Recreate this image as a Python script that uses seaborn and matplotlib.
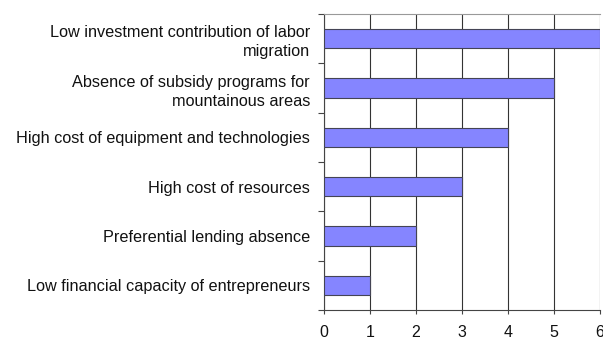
import matplotlib
matplotlib.use("Agg")
import matplotlib.pyplot as plt
import seaborn as sns
import pandas as pd
import numpy as np

categories = [
    "Low investment contribution of labor\nmigration",
    "Absence of subsidy programs for\nmountainous areas",
    "High cost of equipment and technologies",
    "High cost of resources",
    "Preferential lending absence",
    "Low financial capacity of entrepreneurs",
]
values = [6, 5, 4, 3, 2, 1]
xticks = [0, 1, 2, 3, 4, 5, 6]

sns.set_theme(style="white")
plt.rcParams['font.family'] = ['Liberation Sans', 'DejaVu Sans']

df = pd.DataFrame({"cat": categories, "val": values})

fig = plt.figure(figsize=(6.03, 3.41), dpi=100)
ax = fig.add_axes([324/603, 1 - 310/341, (600-324)/603, (310-14)/341])

sns.barplot(data=df, x="val", y="cat", orient="h", order=categories,
            color="#8585ff", saturation=1, width=0.39,
            edgecolor="#444455", linewidth=0.8, ax=ax, zorder=3)

ax.set_xlim(0, 6)
ax.set_ylim(len(categories) - 0.5, -0.5)
ax.set_xticks(xticks)
ax.set_xticklabels([str(t) for t in xticks], fontsize=11.5, color="#111111")
ax.set_xlabel("")
ax.set_ylabel("")
ax.set_yticks(range(len(categories)))
ax.set_yticklabels(categories, fontsize=11.7, color="#111111", ha="right",
                   multialignment="right", linespacing=1.35)
ax.set_yticks(np.arange(-0.5, len(categories), 1.0), minor=True)
ax.tick_params(axis="y", which="major", length=0, pad=10)
ax.tick_params(axis="y", which="minor", length=4, width=0.8, color="#444444", left=True)
ax.tick_params(axis="x", which="major", length=3, width=0.8, color="#444444", bottom=True, pad=8)
ax.xaxis.grid(True, color="#333333", linewidth=0.8, zorder=0)
ax.set_axisbelow(True)
ax.spines["right"].set_visible(False)
ax.spines["top"].set_color("#999999")
ax.spines["top"].set_linewidth(0.8)
for s in ["left", "bottom"]:
    ax.spines[s].set_color("#444444")
    ax.spines[s].set_linewidth(0.8)

fig.savefig("out.png", dpi=100, facecolor="white")
